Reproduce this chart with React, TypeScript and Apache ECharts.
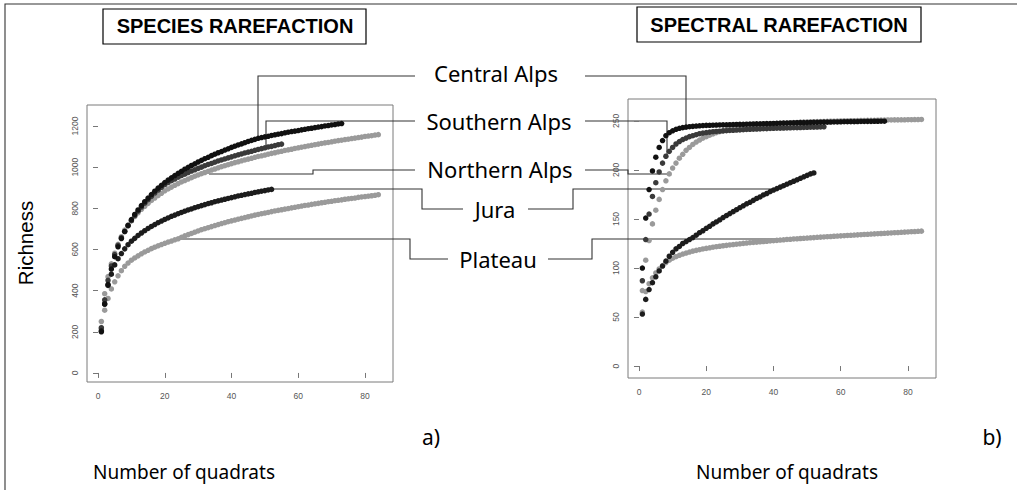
import React, { useEffect, useRef } from "react";
import * as echarts from "echarts";

// Species rarefaction (richness vs number of quadrats)
const spCentral = [200,335,430,505,565,613,653,687,717,745,770,792,813,832,850,867,883,898,912,925,937,948,959,970,980,990,999,1008,1016,1025,1033,1041,1048,1056,1063,1070,1076,1083,1089,1096,1102,1108,1113,1119,1125,1130,1135,1140,1144,1147,1150,1154,1157,1160,1163,1167,1170,1173,1175,1178,1181,1184,1187,1189,1192,1195,1197,1200,1202,1205,1207,1210,1212];
const spSouthern = [220,355,450,520,575,620,657,688,715,740,764,786,806,825,842,858,874,888,902,915,925,934,942,951,959,966,974,981,987,994,1000,1007,1013,1018,1024,1030,1035,1040,1045,1050,1055,1060,1064,1069,1073,1077,1082,1086,1090,1094,1098,1101,1105,1109,1112];
const spNorthern = [250,385,468,530,582,625,662,694,718,740,760,778,795,810,824,838,850,862,873,885,894,903,912,920,928,935,942,949,956,962,968,974,980,986,991,997,1002,1007,1012,1017,1022,1026,1031,1035,1039,1043,1048,1052,1055,1059,1063,1067,1070,1074,1077,1081,1084,1087,1091,1094,1097,1100,1103,1106,1109,1112,1115,1118,1120,1123,1126,1129,1131,1134,1136,1139,1141,1144,1146,1149,1151,1153,1156,1158];
const spJura = [205,335,425,480,525,555,580,603,623,640,654,668,680,691,702,712,721,730,738,746,753,761,767,774,780,786,792,797,803,808,813,818,823,827,832,836,840,844,848,852,856,860,863,867,870,873,877,880,883,886,889,892];
const spPlateau = [215,305,362,408,443,472,497,518,534,548,559,569,579,588,596,604,611,618,624,630,636,641,647,652,659,666,672,678,684,690,696,701,706,711,716,721,726,730,735,739,743,747,751,755,759,763,767,770,774,777,780,784,787,790,793,796,799,802,805,808,811,814,816,819,822,824,827,829,832,834,837,839,841,844,846,848,850,853,855,857,859,861,863,866];

// Spectral rarefaction
const spcCentral = [100,151,180,199,213,223,230,235,238,240,241.5,242.5,243.2,243.7,244.1,244.5,244.8,245.1,245.3,245.5,245.6,245.7,245.8,245.9,246,246.1,246.2,246.3,246.4,246.5,246.6,246.7,246.8,246.9,247,247.1,247.2,247.3,247.4,247.5,247.6,247.7,247.8,247.9,248,248.1,248.2,248.3,248.3,248.4,248.5,248.6,248.6,248.7,248.8,248.8,248.9,249,249,249.1,249.2,249.2,249.3,249.3,249.4,249.5,249.5,249.6,249.6,249.7,249.7,249.8,249.8];
const spcSouthern = [87,129,155,173,187,198,207,214,219,223,226.5,229,231,232.5,234,235,236,237,237.6,238.2,238.6,239,239.3,239.6,239.9,240.1,240.3,240.5,240.7,240.9,241.1,241.3,241.5,241.6,241.8,241.9,242.1,242.2,242.4,242.5,242.6,242.7,242.8,242.9,243,243.1,243.2,243.3,243.4,243.5,243.6,243.7,243.8,243.9,244];
const spcNorthern = [77,108,128,145,159,170,180,189,196,202,207,212,216,220,223,226,228.5,230.5,232.5,234,235.5,236.8,238,239,240,240.8,241.6,242.3,243,243.6,244.1,244.6,245,245.4,245.8,246.1,246.4,246.7,247,247.2,247.4,247.6,247.8,248,248.2,248.4,248.5,248.7,248.8,249,249.1,249.2,249.3,249.4,249.5,249.6,249.7,249.8,249.9,250,250.1,250.2,250.3,250.3,250.4,250.5,250.5,250.6,250.7,250.7,250.8,250.9,250.9,251,251,251.1,251.1,251.2,251.2,251.3,251.3,251.4,251.4,251.5];
const spcJura = [53,68,78,85,91,97,102,107,112,116,119.5,122,125,127,129,131,133.5,136,138,140.5,142.5,145,147,149,151.5,153.5,155.5,157.5,159.5,161.5,163.5,165.5,167,169,171,172.5,174.5,176,178,179.5,181,182.5,184,185.5,187,188.5,190,191.5,193,194.5,196,197];
const spcPlateau = [55,76,84,90,95,99,102.5,105.5,108,110,111.5,113,114.2,115.3,116.3,117.2,118,118.7,119.4,120,120.6,121.2,121.7,122.2,122.7,123.1,123.5,123.9,124.3,124.7,125.1,125.5,125.8,126.1,126.4,126.7,127,127.3,127.6,127.9,128.2,128.5,128.8,129.1,129.3,129.6,129.8,130.1,130.3,130.6,130.8,131,131.3,131.5,131.7,131.9,132.1,132.4,132.6,132.8,133,133.2,133.4,133.6,133.8,134,134.2,134.4,134.6,134.8,135,135.2,135.4,135.6,135.8,136,136.2,136.4,136.6,136.8,137,137.2,137.4,137.6];

const xTicks = [0, 20, 40, 60, 80];
const ySpeciesTicks = [0, 200, 400, 600, 800, 1000, 1200];
const ySpectralTicks = [0, 50, 100, 150, 200, 250];

const regionLabels = ["Central Alps", "Southern Alps", "Northern Alps", "Jura", "Plateau"];

const BLACK = "#111111";
const DARK = "#3a3a3a";
const JURA = "#1c1c1c";
const GRAY = "#9a9a9a";

function pts(vals: number[]) {
  return vals.map((v, i) => [i + 1, v]);
}

function scatter(name: string, vals: number[], color: string, idx: number) {
  return {
    type: "scatter",
    name,
    xAxisIndex: idx,
    yAxisIndex: idx,
    data: pts(vals),
    symbol: "circle",
    symbolSize: 5.5,
    itemStyle: { color, opacity: 1 },
    silent: true,
  };
}

const axisText = {
  color: "#555",
  fontSize: 8.5,
  fontFamily: "Liberation Sans, Arial, sans-serif",
  formatter: (v: number) => String(v),
};

function xAxis(idx: number, min: number, max: number) {
  return {
    type: "value",
    gridIndex: idx,
    min,
    max,
    axisLine: { show: false },
    splitLine: { show: false },
    axisTick: { show: true, length: 5, customValues: xTicks, lineStyle: { color: "#777" } },
    axisLabel: { ...axisText, margin: 9, customValues: xTicks },
  };
}

function yAxis(idx: number, min: number, max: number, ticks: number[]) {
  return {
    type: "value",
    gridIndex: idx,
    min,
    max,
    axisLine: { show: false },
    splitLine: { show: false },
    axisTick: { show: true, length: 5, customValues: ticks, lineStyle: { color: "#777" } },
    axisLabel: { ...axisText, margin: 8, rotate: 90, customValues: ticks },
  };
}

const LINE = { stroke: "#333", lineWidth: 1.1, fill: null };
function leader(points: number[][]) {
  return { type: "polyline", shape: { points }, style: LINE, silent: true };
}

const labelFont = "Noto Sans, Lato, sans-serif";
function label(text: string, x: number, y: number, size = 22) {
  return {
    type: "text",
    x,
    y,
    style: { text, fontSize: size, fontFamily: labelFont, fill: "#000", align: "center", verticalAlign: "middle" },
    silent: true,
  };
}

export default function App() {
  const ref = useRef<HTMLDivElement>(null);
  useEffect(() => {
    if (!ref.current) return;
    const chart = echarts.init(ref.current, undefined, { renderer: "svg" });
    const labelY = [73, 121, 169, 209, 259];
    const labelX = [496, 499, 500, 495, 498];
    chart.setOption({
      animation: false,
      backgroundColor: "#fff",
      grid: [
        { left: 87, top: 105, width: 306, height: 277, show: true, borderColor: "#7a7a7a", borderWidth: 1, backgroundColor: "transparent" },
        { left: 628, top: 99, width: 308, height: 279, show: true, borderColor: "#7a7a7a", borderWidth: 1, backgroundColor: "transparent" },
      ],
      xAxis: [xAxis(0, -3.3, 88.4), xAxis(1, -3.27, 88.33)],
      yAxis: [yAxis(0, -44, 1302, ySpeciesTicks), yAxis(1, -12.2, 272.4, ySpectralTicks)],
      series: [
        scatter("Northern Alps", spNorthern, GRAY, 0),
        scatter("Plateau", spPlateau, GRAY, 0),
        scatter("Southern Alps", spSouthern, DARK, 0),
        scatter("Jura", spJura, JURA, 0),
        scatter("Central Alps", spCentral, BLACK, 0),
        scatter("Northern Alps", spcNorthern, GRAY, 1),
        scatter("Plateau", spcPlateau, GRAY, 1),
        scatter("Southern Alps", spcSouthern, DARK, 1),
        scatter("Jura", spcJura, JURA, 1),
        scatter("Central Alps", spcCentral, BLACK, 1),
      ],
      graphic: [
        leader([[5, 490], [5, 4], [1017, 4]]),
        { type: "rect", shape: { x: 103, y: 9, width: 263, height: 35 }, style: { fill: "#fff", stroke: "#000", lineWidth: 1.2 }, silent: true },
        { type: "text", x: 235, y: 26, style: { text: "SPECIES RAREFACTION", fontSize: 20, fontWeight: "bold", fontFamily: "Liberation Sans, Arial, sans-serif", fill: "#000", align: "center", verticalAlign: "middle" }, silent: true },
        { type: "rect", shape: { x: 637, y: 7, width: 284, height: 35 }, style: { fill: "#fff", stroke: "#000", lineWidth: 1.2 }, silent: true },
        { type: "text", x: 779, y: 25, style: { text: "SPECTRAL RAREFACTION", fontSize: 20, fontWeight: "bold", fontFamily: "Liberation Sans, Arial, sans-serif", fill: "#000", align: "center", verticalAlign: "middle" }, silent: true },
        leader([[258, 138], [258, 76], [415, 76]]),
        leader([[585, 76], [686, 76], [686, 125]]),
        leader([[266, 150], [266, 121], [415, 121]]),
        leader([[585, 121], [667, 121], [667, 155]]),
        leader([[209, 174], [313, 174], [313, 170], [415, 170]]),
        leader([[585, 170], [628, 170], [628, 174], [670, 174]]),
        leader([[273, 189], [422, 189], [422, 209], [463, 209]]),
        leader([[528, 209], [573, 209], [573, 189], [773, 189]]),
        leader([[177, 239], [410, 239], [410, 259], [448, 259]]),
        leader([[548, 259], [592, 259], [592, 239], [797, 239]]),
        ...regionLabels.map((t, i) => label(t, labelX[i], labelY[i])),
        {
          type: "text", x: 25.5, y: 243, rotation: Math.PI / 2,
          style: { text: "Richness", fontSize: 20.5, fontFamily: "Liberation Sans, Arial, sans-serif", fill: "#000", align: "center", verticalAlign: "middle" },
          silent: true,
        },
        label("Number of quadrats", 184, 472, 19),
        label("Number of quadrats", 787, 472, 19),
        label("a)", 431, 437, 21),
        label("b)", 992, 437, 21),
      ],
    });
    return () => chart.dispose();
  }, []);
  return <div ref={ref} style={{ position: "fixed", left: 0, top: 0, width: 1017, height: 490 }} />;
}
